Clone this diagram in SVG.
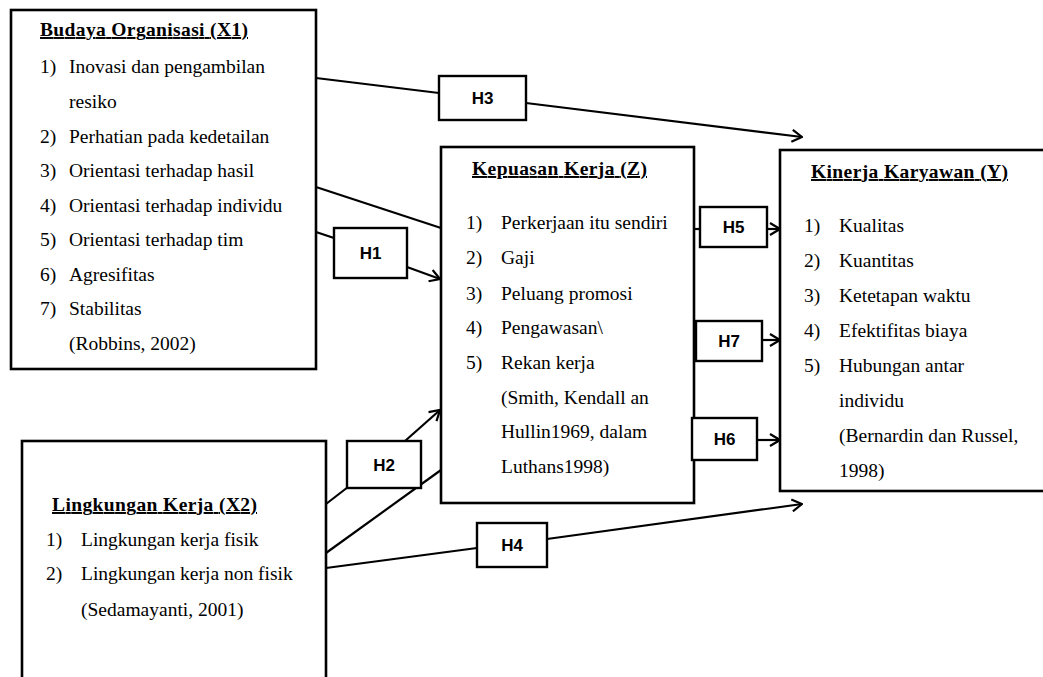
<svg xmlns="http://www.w3.org/2000/svg" width="1043" height="677" viewBox="0 0 1043 677">
<style>
.box{fill:#fff;stroke:#000;stroke-width:2.6}
.hb{fill:#fff;stroke:#000;stroke-width:2.4}
.t{font-family:"Liberation Serif","Times New Roman",serif;font-size:19.5px;fill:#000}
.ti{font-family:"Liberation Serif","Times New Roman",serif;font-size:19.5px;font-weight:bold;fill:#000;text-decoration:underline}
.h{font-family:"Liberation Sans",Arial,sans-serif;font-size:17px;font-weight:bold;fill:#000;text-anchor:middle}
.c{stroke:#000;stroke-width:2.2;fill:none}
</style>
<defs>
<marker id="ar" viewBox="0 0 12 14" refX="11" refY="7" markerWidth="12" markerHeight="14" markerUnits="userSpaceOnUse" orient="auto">
<path d="M1,1 L11,7 L1,13" fill="none" stroke="#000" stroke-width="2.2"/>
</marker>
</defs>
<rect width="1043" height="677" fill="#fff"/>

<g id="connectors">
<line class="c" x1="316" y1="78" x2="439" y2="93"/>
<line class="c" x1="526" y1="103" x2="802" y2="137" marker-end="url(#ar)"/>
<line class="c" x1="316" y1="187" x2="441" y2="228"/>
<line class="c" x1="316" y1="232" x2="334" y2="238"/>
<line class="c" x1="407" y1="267" x2="440" y2="279" marker-end="url(#ar)"/>
<line class="c" x1="326" y1="504" x2="348" y2="487"/>
<line class="c" x1="405" y1="441" x2="440" y2="410" marker-end="url(#ar)"/>
<line class="c" x1="326" y1="553" x2="441" y2="470"/>
<line class="c" x1="326" y1="568" x2="477" y2="548"/>
<line class="c" x1="547" y1="539" x2="802" y2="504" marker-end="url(#ar)"/>
<line class="c" x1="694" y1="229" x2="699" y2="229"/>
<line class="c" x1="767" y1="229" x2="780" y2="229" marker-end="url(#ar)"/>
<line class="c" x1="762" y1="340" x2="780" y2="340" marker-end="url(#ar)"/>
<line class="c" x1="757" y1="440" x2="780" y2="440" marker-end="url(#ar)"/>
</g>

<g id="X1">
<rect class="box" x="11" y="10" width="305" height="359"/>
<text class="ti" x="40" y="36" textLength="208">Budaya Organisasi (X1)</text>
<text class="t" x="40" y="73">1)</text><text class="t" x="69" y="73">Inovasi dan pengambilan</text>
<text class="t" x="69" y="108">resiko</text>
<text class="t" x="40" y="143">2)</text><text class="t" x="69" y="143">Perhatian pada kedetailan</text>
<text class="t" x="40" y="177">3)</text><text class="t" x="69" y="177">Orientasi  terhadap hasil</text>
<text class="t" x="40" y="212">4)</text><text class="t" x="69" y="212">Orientasi  terhadap individu</text>
<text class="t" x="40" y="246">5)</text><text class="t" x="69" y="246">Orientasi  terhadap tim</text>
<text class="t" x="40" y="281">6)</text><text class="t" x="69" y="281">Agresifitas</text>
<text class="t" x="40" y="315">7)</text><text class="t" x="69" y="315">Stabilitas</text>
<text class="t" x="69" y="350">(Robbins, 2002)</text>
</g>

<g id="X2">
<rect class="box" x="22" y="441" width="304" height="260"/>
<text class="ti" x="52" y="511" textLength="205">Lingkungan Kerja (X2)</text>
<text class="t" x="46" y="546">1)</text><text class="t" x="81" y="546">Lingkungan kerja fisik</text>
<text class="t" x="46" y="580">2)</text><text class="t" x="81" y="580">Lingkungan kerja non fisik</text>
<text class="t" x="81" y="616">(Sedamayanti,  2001)</text>
</g>

<g id="Z">
<rect class="box" x="441" y="147" width="253" height="356"/>
<text class="ti" x="472" y="175" textLength="175">Kepuasan Kerja (Z)</text>
<text class="t" x="466" y="229">1)</text><text class="t" x="501" y="229">Perkerjaan itu sendiri</text>
<text class="t" x="466" y="264">2)</text><text class="t" x="501" y="264">Gaji</text>
<text class="t" x="466" y="300">3)</text><text class="t" x="501" y="300">Peluang promosi</text>
<text class="t" x="466" y="334">4)</text><text class="t" x="501" y="334">Pengawasan\</text>
<text class="t" x="466" y="369">5)</text><text class="t" x="501" y="369">Rekan kerja</text>
<text class="t" x="501" y="404">(Smith, Kendall an</text>
<text class="t" x="501" y="438">Hullin1969, dalam</text>
<text class="t" x="501" y="473">Luthans1998)</text>
</g>

<g id="Y">
<rect class="box" x="780" y="150" width="280" height="341"/>
<text class="ti" x="811" y="178" textLength="197">Kinerja Karyawan (Y)</text>
<text class="t" x="804" y="232">1)</text><text class="t" x="839" y="232">Kualitas</text>
<text class="t" x="804" y="267">2)</text><text class="t" x="839" y="267">Kuantitas</text>
<text class="t" x="804" y="302">3)</text><text class="t" x="839" y="302">Ketetapan  waktu</text>
<text class="t" x="804" y="337">4)</text><text class="t" x="839" y="337">Efektifitas  biaya</text>
<text class="t" x="804" y="372">5)</text><text class="t" x="839" y="372">Hubungan antar</text>
<text class="t" x="839" y="407">individu</text>
<text class="t" x="839" y="442">(Bernardin  dan Russel,</text>
<text class="t" x="839" y="477">1998)</text>
</g>

<g id="H3"><rect class="hb" x="439" y="76" width="87" height="44"/><text class="h" x="482.5" y="104">H3</text></g>
<g id="H1"><rect class="hb" x="334" y="228" width="73" height="50"/><text class="h" x="370.5" y="259">H1</text></g>
<g id="H2"><rect class="hb" x="347" y="441" width="74" height="47"/><text class="h" x="384" y="471">H2</text></g>
<g id="H4"><rect class="hb" x="477" y="523" width="70" height="44"/><text class="h" x="512" y="551">H4</text></g>
<g id="H5"><rect class="hb" x="700" y="207" width="67" height="40"/><text class="h" x="733.5" y="233">H5</text></g>
<g id="H7"><rect class="hb" x="696" y="321" width="66" height="40"/><text class="h" x="729" y="347">H7</text></g>
<g id="H6"><rect class="hb" x="692" y="418" width="65" height="42"/><text class="h" x="724.5" y="445">H6</text></g>
</svg>
